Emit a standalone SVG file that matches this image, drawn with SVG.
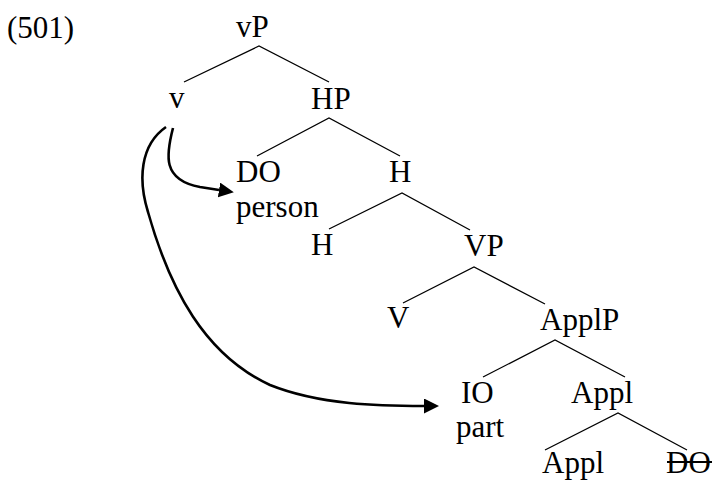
<svg xmlns="http://www.w3.org/2000/svg" width="715" height="480" viewBox="0 0 715 480">
<defs>
<style>
text{font-family:"Liberation Serif","Times New Roman",serif;font-size:31px;fill:#000}
.e{stroke:#000;stroke-width:1.3;fill:none}
.m{stroke:#000;stroke-width:2.6;fill:none;marker-end:url(#ah)}
</style>
<marker id="ah" viewBox="0 0 10 10" refX="0" refY="5" markerWidth="15" markerHeight="15" markerUnits="userSpaceOnUse" orient="auto">
<path d="M0,0 L10,5 L0,10 Z" fill="#000"/>
</marker>
</defs>
<rect width="715" height="480" fill="#fff"/>
<text x="7" y="38">(501)</text>
<g id="tree-edges">
<path class="e" d="M184,82 L259,46 L329,82"/>
<path class="e" d="M257,156 L329,118 L400,156"/>
<path class="e" d="M329,229 L402,193 L470,230"/>
<path class="e" d="M403,303 L474,267 L545,304"/>
<path class="e" d="M483,377 L555,340 L625,377"/>
<path class="e" d="M545,450 L618,413 L687,450"/>
</g>
<g id="connectors">
<path class="m" d="M173,128 C166,155 162,180 200,187 L219,190"/>
<path class="m" d="M166,127 C140,145 138,180 148,212 C170,290 205,355 270,385 C320,405 380,406 424,406"/>
</g>
<g id="n-vP"><text x="236" y="37">vP</text></g>
<g id="n-v"><text x="169" y="108">v</text></g>
<g id="n-HP"><text x="311" y="109">HP</text></g>
<g id="n-DO"><text x="236" y="182">DO</text><text x="236" y="217">person</text></g>
<g id="n-H1"><text x="389" y="182">H</text></g>
<g id="n-H2"><text x="311" y="255">H</text></g>
<g id="n-VP"><text x="464" y="256">VP</text></g>
<g id="n-V"><text x="387" y="328">V</text></g>
<g id="n-ApplP"><text x="540" y="330">ApplP</text></g>
<g id="n-IO"><text x="461" y="403">IO</text><text x="456" y="437">part</text></g>
<g id="n-Appl1"><text x="571" y="403">Appl</text></g>
<g id="n-Appl2"><text x="542" y="473">Appl</text></g>
<g id="n-DO2"><text x="666" y="473">DO</text><line x1="667" y1="462" x2="712" y2="462" stroke="#000" stroke-width="2"/></g>
</svg>
